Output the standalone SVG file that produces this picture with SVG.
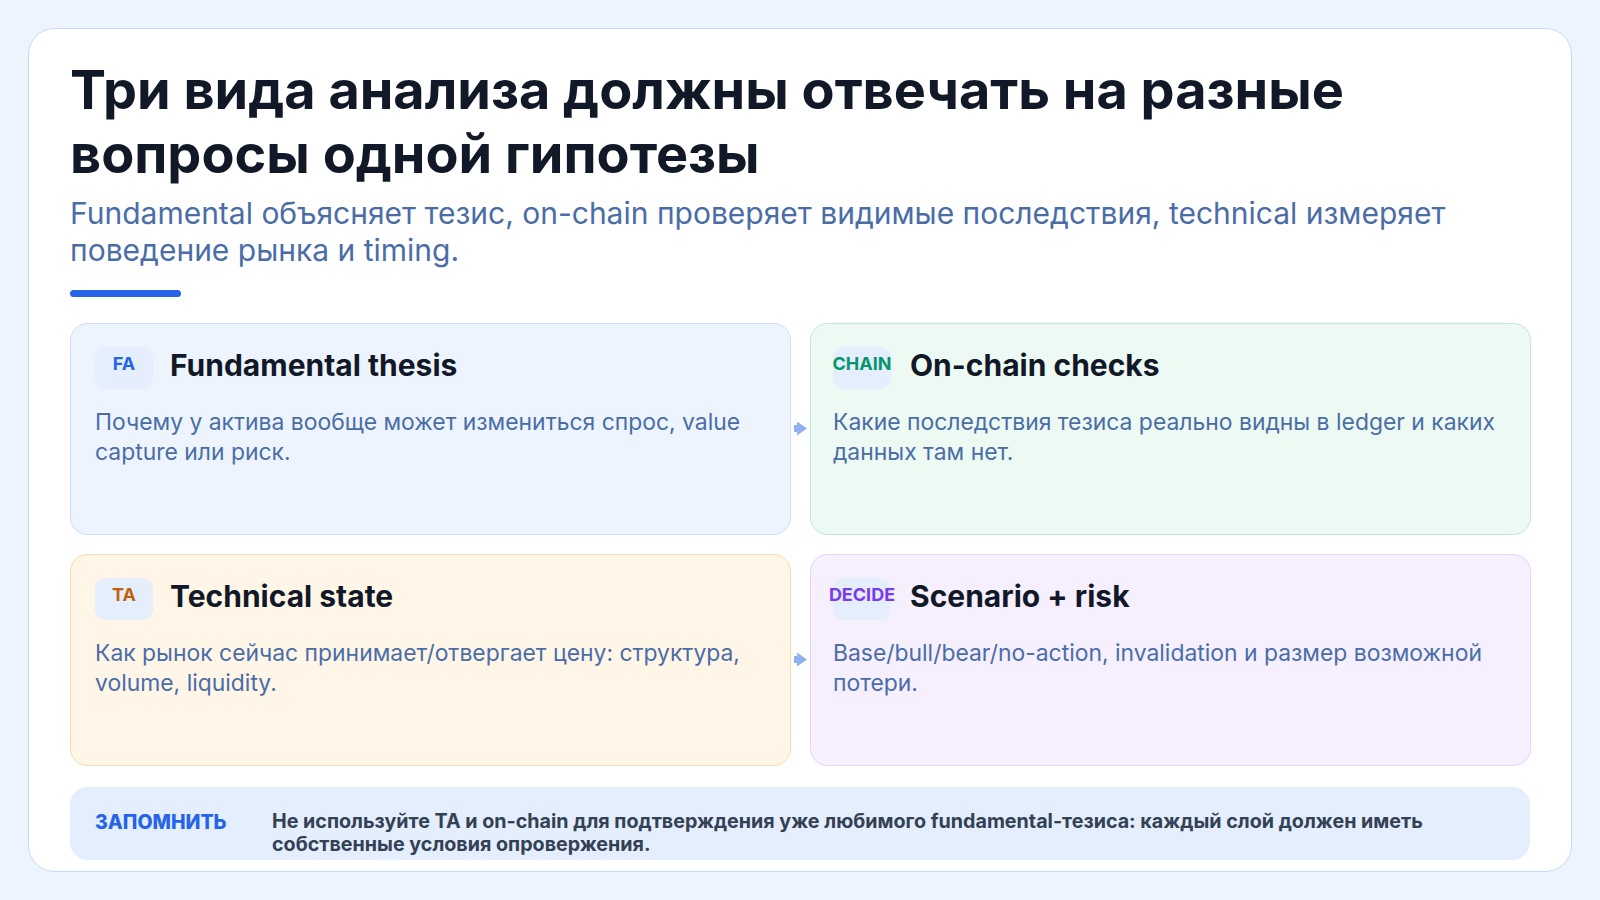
<svg xmlns="http://www.w3.org/2000/svg" width="1600" height="900" viewBox="0 0 1600 900">
  <style>
    text { font-family: Inter, "Noto Sans", "Liberation Sans", sans-serif; }
    .title { font-size: 54px; font-weight: 700; fill: #111827; }
    .sub { font-size: 30px; font-weight: 400; fill: #4a6da7; }
    .head { font-size: 30px; font-weight: 700; fill: #111827; }
    .body { font-size: 22.9px; font-weight: 400; fill: #4a6da7; }
    .badge { fill: #e4eefd; }
    .btxt { font-size: 18px; font-weight: 700; text-anchor: middle; }
    .note { font-size: 19.7px; font-weight: 700; fill: #334155; }
    .conn { stroke: #8fb2ee; stroke-width: 7; fill: none; }
  </style>
  <defs>
    <marker id="arr" viewBox="0 0 10 14" refX="0" refY="7" markerWidth="10" markerHeight="14" markerUnits="userSpaceOnUse" orient="auto">
      <path d="M0,0 L10,7 L0,14 Z" fill="#8fb2ee"/>
    </marker>
  </defs>
  <rect x="0" y="0" width="1600" height="900" fill="#eef4fe"/>
  <rect x="28.5" y="28.5" width="1543" height="843" rx="26" fill="#ffffff" stroke="#c3d8f7" stroke-width="1"/>

  <g id="header">
    <text class="title" x="70" y="109">Три вида анализа должны отвечать на разные</text>
    <text class="title" x="70" y="173">вопросы одной гипотезы</text>
    <text class="sub" x="70" y="224">Fundamental объясняет тезис, on-chain проверяет видимые последствия, technical измеряет</text>
    <text class="sub" x="70" y="261">поведение рынка и timing.</text>
    <rect x="70" y="290" width="111" height="7" rx="3.5" fill="#2563eb"/>
  </g>

  <g id="fa">
    <rect x="70.5" y="323.5" width="720" height="211" rx="17" fill="#edf4fe" stroke="#cadffa"/>
    <rect class="badge" x="95" y="347" width="58" height="42" rx="11"/>
    <text class="btxt" x="124" y="370" fill="#2563eb">FA</text>
    <text class="head" x="170" y="376">Fundamental thesis</text>
    <text class="body" x="95" y="430">Почему у актива вообще может измениться спрос, value</text>
    <text class="body" x="95" y="460">capture или риск.</text>
  </g>

  <g id="chain">
    <rect x="810.5" y="323.5" width="720" height="211" rx="17" fill="#edf9f3" stroke="#bfead3"/>
    <rect class="badge" x="833" y="347" width="58" height="42" rx="11"/>
    <text class="btxt" x="862" y="370" fill="#059669">CHAIN</text>
    <text class="head" x="910" y="376">On-chain checks</text>
    <text class="body" x="833" y="430">Какие последствия тезиса реально видны в ledger и каких</text>
    <text class="body" x="833" y="460">данных там нет.</text>
  </g>

  <g id="ta">
    <rect x="70.5" y="554.5" width="720" height="211" rx="17" fill="#fff6e8" stroke="#f5dcaa"/>
    <rect class="badge" x="95" y="578" width="58" height="42" rx="11"/>
    <text class="btxt" x="124" y="601" fill="#c2610c">TA</text>
    <text class="head" x="170" y="607">Technical state</text>
    <text class="body" x="95" y="661">Как рынок сейчас принимает/отвергает цену: структура,</text>
    <text class="body" x="95" y="691">volume, liquidity.</text>
  </g>

  <g id="decide">
    <rect x="810.5" y="554.5" width="720" height="211" rx="17" fill="#f5effe" stroke="#e3d4fb"/>
    <rect class="badge" x="833" y="578" width="58" height="42" rx="11"/>
    <text class="btxt" x="862" y="601" fill="#7c3aed">DECIDE</text>
    <text class="head" x="910" y="607">Scenario + risk</text>
    <text class="body" x="833" y="661">Base/bull/bear/no-action, invalidation и размер возможной</text>
    <text class="body" x="833" y="691">потери.</text>
  </g>

  <g id="connectors">
    <path class="conn" d="M794 428.5 L797 428.5" marker-end="url(#arr)"/>
    <path class="conn" d="M794 659.5 L797 659.5" marker-end="url(#arr)"/>
  </g>

  <g id="note">
    <rect x="70" y="787" width="1460" height="73" rx="18" fill="#e4eefd"/>
    <text x="95" y="829" font-size="19.5" font-weight="800" fill="#2563eb">ЗАПОМНИТЬ</text>
    <text class="note" x="272" y="828">Не используйте ТА и on-chain для подтверждения уже любимого fundamental-тезиса: каждый слой должен иметь</text>
    <text class="note" x="272" y="851">собственные условия опровержения.</text>
  </g>
</svg>
